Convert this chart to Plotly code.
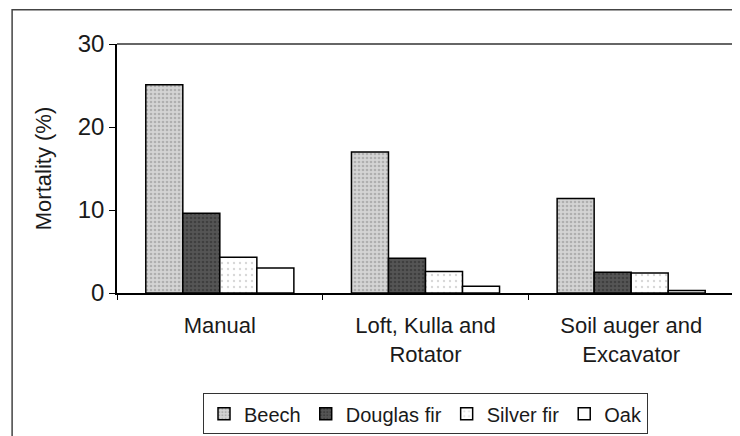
import plotly.graph_objects as go

methods = ["Manual", "Loft, Kulla and<br>Rotator", "Soil auger and<br>Excavator"]
species = ["Beech", "Douglas fir", "Silver fir", "Oak"]

beech = [25.1, 17.0, 11.4]
douglas_fir = [9.6, 4.2, 2.5]
silver_fir = [4.3, 2.6, 2.4]
oak = [3.0, 0.8, 0.3]

values = [beech, douglas_fir, silver_fir, oak]

# grey-scale fills that imitate the old Excel hatches
styles = [
    dict(color="#cfcfcf", pattern=dict(shape=".", bgcolor="#d4d4d4", fgcolor="#8a8a8a", size=4, solidity=0.35)),
    dict(color="#4d4d4d", pattern=dict(shape=".", bgcolor="#555555", fgcolor="#2a2a2a", size=4, solidity=0.35)),
    dict(color="white", pattern=dict(shape=".", bgcolor="white", fgcolor="#b0b0b0", size=6, solidity=0.12)),
    dict(color="white"),
]

FONT = "Liberation Sans, Arial, sans-serif"

fig = go.Figure()
for name, vals, st in zip(species, values, styles):
    fig.add_trace(go.Bar(
        x=methods, y=vals, name=name,
        marker=dict(line=dict(color="black", width=1.5), **st),
    ))

# page body has an 8px margin, so the figure is a bit smaller than the window
fig.update_layout(
    barmode="group",
    bargap=0.28,
    bargroupgap=0,
    width=732, height=428,
    margin=dict(l=109, r=6, t=36, b=143, autoexpand=False),
    plot_bgcolor="white",
    paper_bgcolor="white",
    font=dict(family=FONT, size=22, color="#1a1a1a"),
    showlegend=True,
    legend=dict(
        orientation="h", x=0.5, xanchor="center",
        yref="container", y=0.10, yanchor="top",
        bordercolor="#333", borderwidth=1, font=dict(size=20),
        itemwidth=30, tracegroupgap=0,
    ),
)

fig.update_yaxes(
    range=[0, 30], tickvals=[0, 10, 20, 30],
    showline=True, linecolor="black", linewidth=1.5,
    ticks="outside", ticklen=6, tickcolor="black",
    showgrid=False, zeroline=False, automargin=False,
    tickfont=dict(size=24),
    title=dict(text="Mortality (%)", font=dict(size=22), standoff=20),
)
fig.update_xaxes(
    showline=True, linecolor="black", linewidth=1.5,
    ticks="outside", ticklen=5, tickcolor="black", tickson="boundaries",
    ticklabelstandoff=12,
    showgrid=False, automargin=False, tickfont=dict(size=22),
)

# plot-area frame (top and right) and outer chart border
fig.add_shape(type="line", xref="paper", yref="paper", x0=0, x1=1, y0=1, y1=1,
              line=dict(color="#333", width=1.5))
fig.add_shape(type="line", xref="paper", yref="paper", x0=1, x1=1, y0=0, y1=1,
              line=dict(color="#333", width=1.5))
fig.add_shape(type="rect", xref="paper", yref="paper",
              x0=-0.170, x1=1.0, y0=-0.6, y1=1.138,
              line=dict(color="#444", width=1.5))

fig.write_html("out.html")
